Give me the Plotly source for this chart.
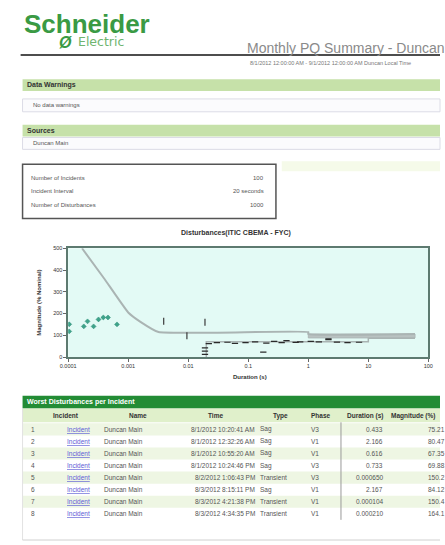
import plotly.graph_objects as go

W, H = 445, 545
FONT = "Liberation Sans"


def px(x):
    return x / W


def py(y):
    return 1 - y / H


# ---------------- chart data ----------------
tick_vals = [0.0001, 0.001, 0.01, 0.1, 1, 10, 100]
tick_text = ["0.0001", "0.001", "0.01", "0.1", "1", "10", "100"]
mag_ticks = [0, 100, 200, 300, 400, 500]

# tolerance curve (upper / lower limits) in seconds and % nominal
upper_dur = [0.00017, 0.0004, 0.001, 0.0016, 0.0032, 1, 1, 60]
upper_mag = [500, 360, 205, 162, 115, 115, 106, 106]
lower_dur = [0.02, 0.02, 10, 10, 60]
lower_mag = [0, 70, 70, 87, 87]
band_dur = [1, 60, 60, 1, 1]
band_mag = [106, 106, 88, 88, 106]

# disturbances
transient_dur = [0.000104, 0.000104, 0.000182, 0.000210, 0.000265,
                 0.000320, 0.000385, 0.000460, 0.000650]
transient_mag = [150.4, 118, 141, 164.1, 141, 173, 182, 182, 150.2]

sag_dur = [0.433, 2.166, 0.616, 0.733, 2.167,
           0.019, 0.019, 0.019, 0.022, 0.03, 0.045, 0.06, 0.09, 0.13,
           0.178, 0.2, 0.27, 0.36, 1.1, 1.5, 3.0, 4.5, 7.0]
sag_mag = [75.21, 80.47, 67.35, 69.88, 84.12,
           42, 27, 12, 62, 66, 68, 63, 66, 70,
           23, 64, 72, 66, 72, 70, 69, 66, 68]

swell_dur = [0.0039, 0.0095, 0.019]
swell_mag = [165, 98, 160]

# ---------------- report text ----------------
report_title = "Monthly PQ Summary - Duncan"
report_period = "8/1/2012 12:00:00 AM - 9/1/2012 12:00:00 AM Duncan Local Time"
section_titles = ["Data Warnings", "Sources"]
section_rows = ["No data warnings", "Duncan Main"]
stats_labels = ["Number of Incidents", "Incident Interval", "Number of Disturbances"]
stats_values = ["100", "20 seconds", "1000"]
chart_title = "Disturbances(ITIC CBEMA - FYC)"
table_title = "Worst Disturbances per Incident"

col_headers = ["Incident", "Name", "Time", "Type", "Phase", "Duration (s)", "Magnitude (%)"]
row_ids = ["1", "2", "3", "4", "5", "6", "7", "8"]
row_names = ["Duncan Main"] * 8
row_times = ["8/1/2012 10:20:41 AM", "8/1/2012 12:32:26 AM", "8/1/2012 10:55:20 AM",
             "8/1/2012 10:24:46 PM", "8/2/2012 1:06:43 PM", "8/3/2012 8:15:11 PM",
             "8/3/2012 4:21:38 PM", "8/3/2012 4:34:35 PM"]
row_types = ["Sag", "Sag", "Sag", "Sag", "Transient", "Sag", "Transient", "Transient"]
row_phases = ["V3", "V1", "V1", "V3", "V3", "V1", "V1", "V1"]
row_durations = ["0.433", "2.166", "0.616", "0.733", "0.000650", "2.167", "0.000104", "0.000210"]
row_magnitudes = ["75.21", "80.47", "67.35", "69.88", "150.2", "84.12", "150.4", "164.1"]

# ---------------- figure ----------------
fig = go.Figure()

fig.add_trace(go.Scatter(x=band_dur, y=band_mag, mode="lines", fill="toself",
                         fillcolor="#b9c2c1", line=dict(color="#aeb8b7", width=1),
                         hoverinfo="skip", showlegend=False))
fig.add_trace(go.Scatter(x=upper_dur, y=upper_mag, mode="lines",
                         line=dict(color="#aab4b3", width=2, shape="spline", smoothing=0.4),
                         showlegend=False))
fig.add_trace(go.Scatter(x=lower_dur, y=lower_mag, mode="lines",
                         line=dict(color="#aab4b3", width=1.5), showlegend=False))
fig.add_trace(go.Scatter(x=transient_dur, y=transient_mag, mode="markers",
                         marker=dict(symbol="diamond", size=3.8, color="#3ea38a",
                                     line=dict(color="#2a8a74", width=0.5)),
                         showlegend=False))
fig.add_trace(go.Scatter(x=sag_dur, y=sag_mag, mode="markers",
                         marker=dict(symbol="line-ew-open", size=4.5, color="#2a2a2a",
                                     line=dict(color="#2a2a2a", width=1.2)),
                         showlegend=False))
fig.add_trace(go.Scatter(x=swell_dur, y=swell_mag, mode="markers",
                         marker=dict(symbol="line-ns-open", size=5, color="#3a3a3a",
                                     line=dict(color="#3a3a3a", width=1.2)),
                         showlegend=False))

shapes = []
annotations = []


def rect(x0, y0, x1, y1, fill, line_color=None, lw=0):
    shapes.append(dict(type="rect", xref="paper", yref="paper",
                       x0=px(x0), x1=px(x1), y0=py(y1), y1=py(y0),
                       fillcolor=fill, layer="below",
                       line=dict(color=line_color or fill, width=lw)))


def hline(x0, x1, y, color, lw):
    shapes.append(dict(type="line", xref="paper", yref="paper",
                       x0=px(x0), x1=px(x1), y0=py(y), y1=py(y),
                       line=dict(color=color, width=lw)))


def vline(x, y0, y1, color, lw):
    shapes.append(dict(type="line", xref="paper", yref="paper",
                       x0=px(x), x1=px(x), y0=py(y0), y1=py(y1),
                       line=dict(color=color, width=lw)))


def label(x, y, text, size=6.5, color="#555555", bold=False, anchor="left",
          family=FONT, angle=0):
    if bold:
        text = "<b>" + text + "</b>"
    annotations.append(dict(xref="paper", yref="paper", x=px(x), y=py(y),
                            text=text, showarrow=False, xanchor=anchor,
                            yanchor="middle", textangle=angle,
                            font=dict(family=family, size=size, color=color)))


# header / logo
label(14, 21, "Schneider", size=26, color="#3a9a44", bold=True)
label(68, 40, "<i>Ø</i>", size=16, color="#3a9a44", bold=True, anchor="right")
label(70, 38.5, "Electric", size=12.5, color="#6fb56f", family="DejaVu Sans")
label(244, 45, report_title, size=14, color="#8a8a8a")
hline(13, 445, 52.5, "#4d4d4d", 2)
label(247, 61, report_period, size=5.5, color="#777777")

# sections
section_bars = [(77, 89), (123, 135)]
section_boxes = [(97, 110), (136, 148)]
for (y0, y1), (b0, b1), title, row in zip(section_bars, section_boxes,
                                          section_titles, section_rows):
    rect(15, y0, 445, y1, "#c6e1a9")
    label(18, (y0 + y1) / 2, title, size=7, color="#333333", bold=True)
    rect(15, b0, 445, b1, "#fbfbfd", "#dcdce6", 1)
    label(24, (b0 + b1) / 2, row, size=6, color="#555555")

# statistics box
rect(282, 160, 445, 170, "#f5fae9")
rect(15, 163, 276, 218, "#ffffff", "#555555", 1.5)
for i, (lab, val) in enumerate(zip(stats_labels, stats_values)):
    yy = 177 + i * 13.5
    label(22, yy, lab, size=6, color="#555555")
    label(266, yy, val, size=6, color="#555555", anchor="right")

# chart titles
label(235, 233, chart_title, size=7, color="#333333", bold=True, anchor="center")
label(32, 303, "Magnitude (% Nominal)", size=6, color="#333333", bold=True,
      anchor="center", angle=-90)
label(249, 378, "Duration (s)", size=6, color="#333333", bold=True, anchor="center")

# table
rect(15, 397, 445, 410, "#238c35")
label(18, 403.5, table_title, size=7, color="#ffffff", bold=True)
rect(15, 410, 445, 424, "#e0f0cb")
header_x = [60, 134, 214, 281, 322, 388, 392]
header_anchor = ["center", "center", "center", "center", "center", "right", "left"]
for text, hx, ha in zip(col_headers, header_x, header_anchor):
    label(hx, 417.5, text, size=6.5, color="#333333", bold=True, anchor=ha)

row_h = 12.2
row_top = 425
for i in range(len(row_ids)):
    y0 = row_top + i * row_h
    yc = y0 + row_h / 2
    if i % 2 == 0:
        rect(15, y0, 445, y0 + row_h, "#eef6e3")
    label(26, yc, row_ids[i], size=6.5, color="#555555", anchor="center")
    label(73, yc, "<u>Incident</u>", size=6.5, color="#5b5bd6", anchor="center")
    label(97, yc, row_names[i], size=6.5, color="#555555")
    label(256, yc, row_times[i], size=6.5, color="#555555", anchor="right")
    label(258, yc, row_types[i], size=6.5, color="#555555")
    label(310, yc, row_phases[i], size=6.5, color="#555555")
    label(388, yc, row_durations[i], size=6.5, color="#555555", anchor="right")
    label(452, yc, row_magnitudes[i], size=6.5, color="#555555", anchor="right")

vline(343, 424, row_top + 8 * row_h, "#9a9a9a", 1)
vline(15, 410, 543, "#e2e2e2", 1)
hline(15, 445, 543, "#d0d0d0", 1)

fig.update_layout(
    width=W, height=H, autosize=False,
    margin=dict(l=0, r=0, t=0, b=0),
    paper_bgcolor="#ffffff",
    plot_bgcolor="#e3faf5",
    font=dict(family=FONT, size=6, color="#333333"),
    shapes=shapes,
    annotations=annotations,
    xaxis=dict(
        type="log", range=[-4, 2], domain=[px(62), px(433)],
        tickvals=tick_vals, ticktext=tick_text,
        tickfont=dict(size=5.5, color="#333333"),
        ticks="outside", ticklen=3, tickcolor="#666666",
        showgrid=False, zeroline=False,
        showline=True, linecolor="#5d7a70", linewidth=1.5, mirror=True,
    ),
    yaxis=dict(
        range=[0, 500], domain=[py(358), py(248)],
        tickvals=mag_ticks,
        tickfont=dict(size=5.5, color="#333333"),
        ticks="outside", ticklen=3, tickcolor="#666666",
        showgrid=False, zeroline=False,
        showline=True, linecolor="#5d7a70", linewidth=1.5, mirror=True,
    ),
)

fig.write_html("out.html")
